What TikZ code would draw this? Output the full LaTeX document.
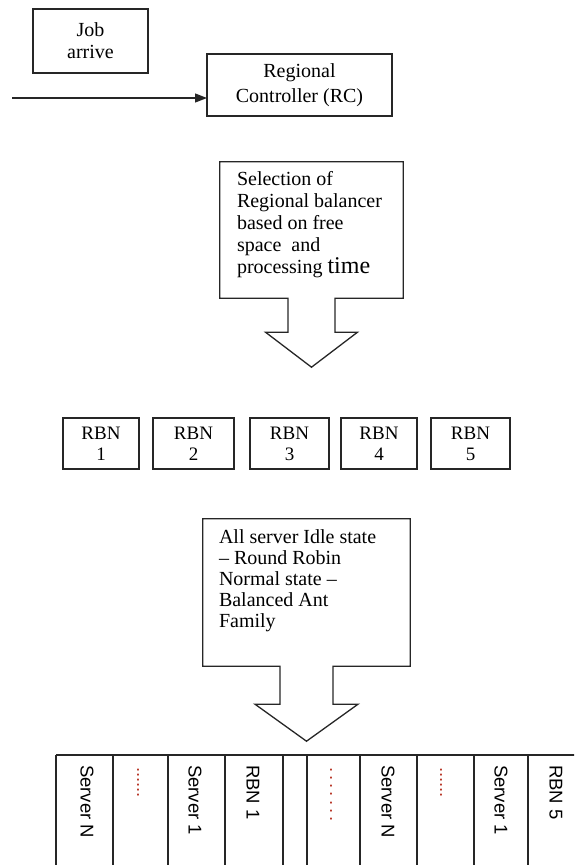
\documentclass[tikz,border=0pt]{standalone}
\usepackage{fontspec}
\setmainfont{Liberation Serif}
\setsansfont{Liberation Sans}
\usetikzlibrary{calc,arrows.meta}
\definecolor{dotred}{rgb}{0.72,0.22,0.16}

\begin{document}
\begin{tikzpicture}[x=1pt,y=-1pt,
    box/.style={draw=black!85, line width=1.3pt, inner sep=0pt, outer sep=0pt},
    txt/.style={font=\fontsize{20}{22}\selectfont, align=center},
    notetxt/.style={font=\fontsize{20}{22}\selectfont, align=left, anchor=north west, inner sep=0pt},
    cell/.style={font=\sffamily\fontsize{18.5}{20}\selectfont, rotate=-90, anchor=west, inner sep=0pt},
    dots/.style={cell, text=dotred},
    >={Triangle[length=12pt,width=9pt]}]
    \useasboundingbox (0,0) rectangle (574,865);

    % job and regional controller
    \node[box, txt, minimum width=115pt, minimum height=64pt] (job) at (90.5,41) {Job\\arrive};
    \node[box, txt, font=\fontsize{20}{25}\selectfont, minimum width=185pt, minimum height=62pt] (rc) at (299.5,85) {Regional\\Controller (RC)};
    \coordinate (start) at (12,98);
    \draw[->, line width=1.3pt, black!85] (start) -- (start -| rc.west);

    % first callout
    \node[minimum width=183pt, minimum height=136pt, inner sep=0pt] (sel) at (311.5,230) {};
    \draw[box] (sel.north west) -- (sel.north east) -- (sel.south east)
        -- ($(sel.south)+(23.5,0)$) -- ++(0,34) -- ++(22.5,0) -- ($(sel.south)+(0,69)$)
        -- ($(sel.south)+(-46,34)$) -- ++(22.5,0) -- ($(sel.south)+(-23.5,0)$)
        -- (sel.south west) -- cycle;
    \node[notetxt] (seltext) at ($(sel.north west)+(17,9)$) {Selection of\\Regional balancer\\based on free\\space\ \ and\\processing {\fontsize{24}{22}\selectfont time}};

    % regional balancer nodes
    \foreach \x/\w/\n in {101/76/1, 193.5/81/2, 289.5/79/3, 379/76/4, 470.5/79/5}
        \node[box, txt, font=\fontsize{19}{21}\selectfont, minimum width=\w pt, minimum height=51pt] (rbn\n) at (\x,443.5) {RBN\\\n};

    % second callout
    \node[minimum width=207pt, minimum height=147pt, inner sep=0pt] (note) at (306.5,592.5) {};
    \draw[box] (note.north west) -- (note.north east) -- (note.south east)
        -- ($(note.south)+(26.5,0)$) -- ++(0,38) -- ++(25,0) -- ($(note.south)+(0,75)$)
        -- ($(note.south)+(-51.5,38)$) -- ++(25,0) -- ($(note.south)+(-26.5,0)$)
        -- (note.south west) -- cycle;
    \node[notetxt, font=\fontsize{20}{21}\selectfont] (notetext) at ($(note.north west)+(16,11)$) {All server Idle state\\– Round Robin\\Normal state –\\Balanced Ant\\Family};

    % server table
    \begin{scope}
        \clip (0,0) rectangle (574,865);
        \draw[line width=1.3pt, black!85] (56,755) -- (590,755);
        \foreach \x in {56,113,168,225,283,307,360,417,474,528}
            \draw[line width=1.3pt, black!85] (\x,755) -- (\x,870);
        \foreach \x/\t in {87/Server N, 195/Server 1, 253/RBN 1, 388/Server N, 501/Server 1, 556/RBN 5}
            \node[cell] at (\x,765) {\t};
        \node[dots] at (138,767) {......};
        \node[dots] at (331,767) {.\,.\,.\,.\,.\,.\,.};
        \node[dots] at (441,767) {......};
    \end{scope}
\end{tikzpicture}
\end{document}
